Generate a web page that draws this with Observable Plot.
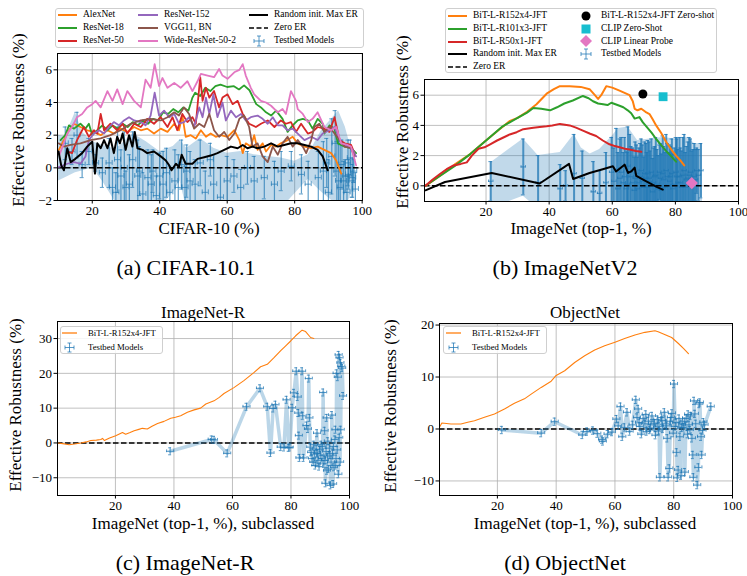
<!DOCTYPE html>
<html><head><meta charset="utf-8">
<script src="https://cdn.jsdelivr.net/npm/d3@7"></script>
<script src="https://cdn.jsdelivr.net/npm/@observablehq/plot@0.6"></script>
<style>
body{margin:0;background:#fff;}
#page{position:relative;width:747px;height:576px;background:#fff;overflow:hidden;font-family:"Liberation Serif","DejaVu Serif",serif;color:#000}
.t{position:absolute;white-space:nowrap;line-height:1}
.box{position:absolute;border:1px solid #cfcfcf;border-radius:3px;background:rgba(255,255,255,0.85);box-sizing:border-box}
</style></head>
<body><div id="page"></div>
<script>
// ---------------- DATA ----------------
// Panel (a) CIFAR-10.1: [CIFAR-10 acc, effective robustness]
const alexNet = [[10.1,1.1],[11.6,1.7],[13.1,2.3],[14.6,2.7],[16.5,2.5],[18.5,2.3],[20.5,2.2],[22.5,2.0],[24.5,2.3],[26.4,2.1],[28.4,2.4],[30.4,2.2],[32.4,2.5],[34.4,2.3],[36.3,2.4],[38.3,2.1],[40.3,2.4],[42.3,2.2],[44.3,2.7],[45.7,2.3],[46.7,3.2],[47.7,1.9],[49.2,2.0],[50.7,1.8],[52.2,2.3],[53.7,1.9],[55.1,2.1],[56.6,1.9],[58.1,2.0],[60.1,1.9],[62.1,2.3],[63.6,1.7],[64.6,0.9],[65.5,1.5],[67,1.3],[68,2.0],[69,1.1],[70.5,1.5],[71.5,1.0],[73,1.4],[74.5,1.3],[75.9,1.5],[77.9,1.7],[79.4,1.9],[80.9,1.5],[82.9,1.3],[84.9,1.2],[86.8,1.3],[88.8,1.1],[90.8,0.9],[92.3,0.45],[93.8,-0.35]];
const resNet18 = [[10.6,1.7],[12,2.0],[13.1,2.6],[14.6,2.4],[16.5,2.7],[18,2.4],[19,2.7],[20,2.0],[21.5,2.3],[23,2.6],[24.5,2.3],[26,2.6],[27.5,2.4],[29,2.7],[30.5,2.5],[32,2.8],[33.5,2.6],[35,2.9],[36.5,2.7],[38,3.0],[39.5,2.9],[41,3.4],[42.5,3.3],[44,3.6],[45.5,3.4],[47,3.7],[48.5,3.5],[49.7,4.3],[50.5,4.6],[52,4.4],[53.5,4.9],[55,4.7],[56.5,5.0],[58,5.1],[60,4.95],[62,5.0],[63.5,4.8],[65,5.05],[66.6,4.75],[68.6,3.9],[70,3.7],[71.5,3.4],[73,3.2],[74.5,3.5],[76.4,3.0],[77.9,2.2],[79.4,2.6],[80.9,2.9],[82.4,3.0],[83.9,2.9],[85.3,2.4],[86.8,3.0],[88.3,2.7],[88.8,2.1],[90.3,2.6],[91.8,2.4],[92.8,1.5],[94.8,1.3],[96.7,1.2],[98.2,0.9]];
const resNet50 = [[12.6,1.0],[14,0.9],[15.5,1.7],[17.5,2.5],[19,1.9],[20.5,2.3],[21.5,2.1],[22.5,3.3],[23.5,2.3],[25.4,2.7],[27.4,2.3],[29,2.7],[30.4,2.1],[32.4,2.7],[34.4,2.5],[36.3,3.0],[38.3,2.7],[40.3,3.1],[42.3,2.5],[43.8,3.1],[45.2,2.3],[46.7,3.3],[48.2,2.8],[49.7,3.1],[50.7,2.7],[52,5.55],[52.7,4.1],[53.7,4.9],[54.7,4.3],[56.1,4.7],[57.6,3.7],[58.6,4.3],[60.1,4.5],[61.6,3.9],[63.1,4.1],[64.6,3.3],[66.5,2.7],[68.5,2.5],[70,2.7],[72,2.9],[74,2.5],[75.9,2.9],[77.4,2.7],[78.9,2.8],[80.4,2.2],[81.9,2.7],[83.9,2.1],[85.3,2.2],[86.8,2.5],[88.8,2.4],[90.3,2.2],[91.8,3.1],[93.3,1.7],[94.8,1.5],[96.7,1.4],[97.7,0.9]];
const resNet152 = [[10.1,0.05],[12.6,0.25],[14.6,0.35],[16.5,0.25],[18,0.7],[19,1.7],[20.5,2.1],[22,2.3],[23.5,2.1],[25,2.5],[26.4,2.8],[27.9,2.6],[29.4,2.9],[30.9,3.1],[32.4,2.9],[34.4,2.8],[35.8,2.6],[37.3,3.2],[38.5,4.6],[39.8,3.2],[41.3,3.5],[42.8,3.1],[44.3,3.3],[45.7,2.7],[47.2,2.8],[48.7,3.1],[50.2,2.5],[51.7,3.7],[52.7,3.1],[53.7,4.3],[54.7,3.3],[55.9,4.5],[57.1,3.1],[58.6,4.0],[59.6,2.9],[61.1,3.5],[62.6,3.1],[64.1,3.3],[65.5,2.9],[67,3.1],[69,3.2],[70.5,3.0],[72,2.7],[73.5,3.1],[75,2.6],[76.4,2.6],[77.9,2.3],[79.4,2.4],[80.9,2.1],[82.9,1.7],[84.9,1.9],[86.8,1.7],[88.3,2.1],[90.3,2.3],[91.8,2.5],[93.8,1.5],[95.7,1.3],[97.2,1.1],[98.2,0.7]];
const vgg11bn = [[10,1.5],[11.6,1.3],[13.6,1.4],[16.5,1.5],[19.5,1.7],[22.5,1.8],[25.4,2.0],[28.4,2.3],[31.4,2.7],[34.4,2.9],[37.3,3.0],[40.3,2.9],[42.3,3.1],[44.3,3.4],[45.7,3.2],[47.2,3.7],[48.7,3.3],[50.2,2.4],[51.7,2.7],[53.2,2.5],[54.7,3.3],[56.1,2.3],[57.6,1.9],[59.1,2.2],[60.6,1.7],[62.1,2.1],[63.6,3.0],[65,3.2],[66.5,2.5],[67.5,1.3],[69,1.5],[70.5,0.7],[72,0.35],[73.5,1.3],[75,0.8],[76.4,1.5],[77.9,1.9],[79.4,1.3],[80.9,1.7],[82.4,1.3],[83.4,0.9],[84.9,1.7],[85.8,2.5],[87.3,2.7],[88.8,2.2],[90.3,2.5],[91.8,2.1],[93.3,1.7],[94.8,1.3],[96.7,1.2],[97.7,0.7]];
const wideResNet = [[10.3,0.8],[11.2,1.3],[12.6,2.1],[14,2.5],[15.5,3.1],[17,3.3],[18.5,3.7],[20,3.9],[21,4.1],[22.5,3.7],[24.5,4.7],[26,4.1],[27.4,4.8],[29,3.9],[30.4,4.7],[32.4,4.1],[34.4,3.7],[35.8,5.4],[37.3,4.9],[38.5,6.35],[39.8,5.0],[40.8,5.5],[42.3,4.9],[44.3,5.2],[46.2,4.9],[48.2,5.3],[49.7,4.7],[51.2,5.3],[52.2,5.75],[54.2,5.65],[56.1,5.55],[57.6,6.05],[58.6,5.65],[60.1,5.45],[62.1,5.85],[63.6,6.0],[64.6,6.35],[65.5,5.65],[67,4.9],[68,4.5],[70,4.1],[71.5,4.0],[73,3.8],[75,3.4],[76.4,3.6],[77.4,3.3],[78.9,4.7],[80.4,4.1],[80.9,3.6],[82.4,3.3],[83.9,2.8],[85.3,3.0],[86.8,3.4],[88.8,2.5],[90.8,2.3],[92.3,2.5],[93.8,1.5],[95.7,1.4],[96.7,1.3],[98.2,0.15]];
const randomInitA = [[10,1.0],[10.8,0.15],[11.6,-0.15],[12.6,1.2],[13.6,0.35],[15,0.55],[17,0.9],[18.5,1.3],[20,1.6],[20.8,-0.35],[21.5,1.5],[22.5,1.2],[23.5,1.7],[24.5,1.2],[25.4,1.8],[26.4,0.9],[27.4,1.9],[28.2,1.5],[29,2.1],[29.9,1.1],[30.9,2.0],[31.9,1.3],[32.6,2.2],[33.4,1.2],[34.9,1.1],[36.3,0.9],[38.3,1.0],[40.3,0.7],[41.8,0.45],[42.8,0.15],[43.5,-0.15],[44.8,0.25],[45.7,0.05],[46.5,0.8],[47.7,0.25],[49.7,0.25],[51.2,0.55],[53.2,0.65],[55.1,0.75],[57.1,0.9],[59.1,1.1],[61.1,1.3],[63.1,1.2],[64.6,1.4],[66,1.2],[67.5,1.3],[69,1.2],[71,1.3],[73,1.5],[75,1.3],[76.9,1.4],[78.9,1.5],[80.9,1.5],[82.9,1.4],[84.9,1.3],[86.8,1.1],[88.3,0.7],[89.8,-0.15]];
// testbed models (a): [x, y, y-error]
const testbedA = [[12,1.5,1.0],[14,1.0,0.8],[15.5,2.0,1.4],[17,0.2,0.8],[19,1.0,0.8],[21,0.3,0.5],[23,-0.3,0.9],[25,0.3,1.5],[26,-1.2,1.2],[27,-1.5,1.2],[27.5,0.5,2.0],[28.5,-0.5,1.6],[29.5,0.0,2.2],[30,-1.2,1.0],[31,-1.0,1.8],[32,0.5,1.7],[33.5,-0.5,2.2],[34,-0.2,1.5],[35,-1.6,1.3],[36.5,-0.6,1.7],[37.5,-1.0,1.8],[38,-0.2,1.3],[39,-1.7,1.2],[40,-0.5,1.4],[41,-1.0,2.0],[42,-0.3,1.5],[43,-1.5,1.6],[44.5,-0.8,1.9],[45.5,-1.2,2.0],[46.5,0.2,1.5],[47.5,-1.2,1.3],[48,-0.2,1.6],[49,-0.8,1.8],[50.5,-1.0,1.5],[52,0.3,1.4],[53.5,-1.5,1.3],[55,0.5,1.0],[56,-1.0,1.8],[58,-1.8,1.8],[60,-0.8,1.5],[62,-0.5,1.0],[64,-1.2,1.1],[66,0.0,1.0],[68,-0.8,1.5],[71,-0.6,1.3],[74,-1.0,1.4],[76,-0.2,1.2],[79,0.1,0.9],[82,-0.4,1.2],[84,-1.0,1.4],[87,-0.6,1.6],[88.5,-0.2,1.8],[89.5,0.3,1.5],[90,-1.5,2.0],[91,0.7,2.3],[92,1.5,2.0],[92.5,-0.2,1.8],[93,-0.8,2.5],[93.5,-1.2,2.8],[94,0.2,1.5],[94.5,-0.8,1.2],[95,-0.5,1.0],[95.5,-1.5,1.0],[95.8,0.3,1.4],[96,-0.4,0.9],[96.5,0.6,1.1],[97,-0.8,1.0],[97.2,-0.6,1.2],[97.5,-0.2,0.7],[98,-1.3,1.0]];
const testbedAxErr = 0.9;
// shaded band (a): [x, low, high]
const bandA = [[10,-0.8,2.0],[12,-0.6,1.9],[15,-0.3,3.4],[17,-0.2,2.2],[20,0.0,1.6],[23,-0.8,1.4],[26,-1.8,1.2],[28,-2.5,1.3],[32,-2.5,2.1],[36,-2.5,1.6],[40,-2.5,1.0],[44,-1.5,1.3],[46,-0.8,1.7],[48,-2.5,1.2],[52,-2.5,1.8],[56,-2.5,1.2],[60,-2.5,0.9],[64,-2.0,1.0],[68,-2.5,0.8],[72,-2.5,0.7],[76,-2.5,0.6],[80,-1.6,0.4],[84,-0.7,0.8],[88,-1.5,2.3],[91,-2.0,3.0],[93,-2.5,3.5],[95,-2.5,2.5],[97,-1.5,1.0],[98,-1.5,0.8]];

// Panel (b) ImageNetV2: [ImageNet top-1, effective robustness]
const bitR152x4 = [[0.8,0],[4,0.45],[7,0.9],[10,1.4],[15,2.1],[20,3.0],[24,3.7],[27.6,4.3],[30,4.5],[33,4.9],[36,5.4],[39.2,6.1],[41.5,6.4],[43.4,6.6],[46.5,6.6],[50,6.55],[52.8,6.4],[54.5,6.0],[55.5,5.75],[56.5,6.0],[58.1,6.6],[60,6.5],[62.3,6.3],[65.5,6.0],[66.5,5.6],[67.1,5.1],[68,5.0],[69.2,5.1],[70.5,4.9],[71.8,4.75],[72.8,4.4],[73.9,4.0],[75.5,3.5],[77.1,2.9],[78.7,2.4],[80.2,2.0],[81.5,1.7],[82.8,1.35]];
const bitR101x3 = [[0.8,0],[5,0.6],[10,1.3],[15,2.1],[20,3.0],[25,3.9],[30,4.5],[33,4.85],[35,5.15],[37.5,5.1],[40.3,5.0],[42.5,5.2],[44.8,5.45],[47.5,5.65],[50.7,5.95],[52.5,5.8],[53.9,5.6],[55.5,5.45],[57.1,5.4],[58.5,5.35],[59.7,5.5],[61,5.4],[62.3,5.3],[63.5,5.2],[64.9,5.0],[66,4.8],[67.1,4.45],[68.6,4.55],[69.7,4.2],[71.3,3.8],[72.5,3.5],[73.9,3.1],[75.5,2.7],[77.1,2.3],[78.7,1.95],[80.2,1.6]];
const bitR50x1 = [[0.8,0],[3,0.4],[5.5,0.8],[7.5,1.1],[9.7,1.35],[12,1.45],[13.9,1.55],[15.5,2.0],[17.6,2.45],[19.5,2.55],[21.3,2.75],[23.5,3.0],[25.5,3.2],[27.5,3.4],[29.7,3.55],[31.8,3.75],[35,3.85],[37,3.9],[39.2,3.95],[41,4.0],[43.4,4.1],[45,4.05],[46.5,4.0],[48.5,3.85],[50.7,3.65],[53,3.45],[54.9,3.3],[57,3.0],[59.1,2.75],[60.5,2.65],[62.3,2.55],[64,2.45],[65.5,2.4],[67.5,2.3],[69.2,2.25]];
const randomInitB = [[0.8,-0.3],[7,0.25],[21.8,0.85],[37,0.15],[46.3,1.45],[47.6,0.45],[52.8,0.85],[57,1.1],[60.2,1.3],[61.2,0.95],[63.9,1.4],[65,0.85],[66,0.95],[67.1,1.2],[67.6,0.65],[70.8,0.3],[73.9,-0.05],[76,-0.25]];
const bitZeroShot = [[69.7,6.08]];
const clipZeroShot = [[76.1,5.9]];
const clipLinearProbe = [[85.2,0.18]];
const testbedB = [[21.5,0.3,1.3],[31.8,1.25,1.85],[36.5,0.2,1.8],[43.5,-0.2,1.6],[45.2,0.0,1.0],[47.9,0.8,2.6],[50.5,0.5,1.8],[54,-0.4,2.0],[56,-0.5,1.5],[58,0.2,2.0],[59.8,0.9,2.3],[60.5,0.3,2.2],[61.3,1.1,2.7],[61.8,-0.2,2.4],[62.4,0.5,2.6],[62.9,0.9,2.3],[63.5,0.2,2.0],[63.9,0.6,2.6],[64.5,-0.2,2.5],[64.8,0.1,2.1],[65,1.3,2.6],[65.6,0.9,2.5],[66,0.6,2.0],[66.5,0.2,2.3],[67,-0.3,2.2],[67.3,0.5,2.4],[67.7,0.8,1.9],[68,-0.2,2.1],[68.5,0.2,2.3],[68.9,0.6,2.2],[69.2,1.0,2.1],[69.6,0.3,2.4],[70,-0.1,2.0],[70.3,0.8,2.1],[70.7,0.5,2.3],[71,-0.1,2.3],[71.3,0.8,2.2],[71.7,0.5,2.4],[72,0.3,2.0],[72.4,0.9,2.2],[72.8,-0.4,2.2],[73.1,0.2,2.3],[73.5,0.6,2.0],[73.8,0.7,2.5],[74.2,0.1,2.3],[74.6,-0.2,2.2],[75,0.9,1.8],[75.3,0.5,2.3],[75.6,-0.3,2.4],[76,0.8,2.5],[76.3,0.4,2.2],[76.7,-0.1,2.3],[77.1,1.0,2.4],[77.5,0.6,2.2],[77.8,0.0,2.2],[78.2,0.3,2.4],[78.5,0.6,2.0],[78.9,0.8,2.3],[79.2,-0.2,2.3],[79.7,0.1,2.4],[80.2,0.9,2.3],[80.5,0.6,2.5],[80.8,0.2,2.2],[81.3,0.6,2.6],[81.6,0.2,2.3],[82,-0.1,2.4],[82.4,0.7,2.5],[82.8,1.0,2.4],[83.2,-0.1,2.3],[83.5,0.4,2.2],[84,0.5,2.4],[84.4,0.7,2.5],[84.8,0.9,2.2],[85.2,0.1,2.2],[85.6,0.3,2.1],[86,0.6,2.2],[86.4,0.4,2.0],[86.8,1.0,1.5],[87.3,0.7,1.7],[88.1,1.0,1.8]];
const testbedBxErr = 0.7;
const bandB = [[21.3,-1.5,1.5],[31.8,-0.7,3.1],[36.5,-1.5,2.0],[43.5,-1.5,2.2],[47.9,-1.5,3.4],[50.2,-1.5,2.5],[53,-1.5,2.1],[56,-1.5,2.4],[60,-1.5,3.3],[62,-1.5,3.8],[65,-1.5,3.9],[68,-1.5,3.0],[72,-1.5,3.1],[76,-1.5,3.2],[80,-1.5,3.1],[84,-1.5,3.2],[86,-1.5,2.8],[88.6,-1.5,2.8]];

// Panel (c) ImageNet-R
const bitR152x4_R = [[0.2,0],[2,-0.2],[4.2,-0.5],[6,-0.3],[8.2,0],[10,0.3],[11.6,0.7],[13.5,0.8],[15,1.0],[15.6,1.3],[16.2,0.7],[18,1.4],[20.1,2.1],[22.4,3.0],[23.5,2.5],[25,3.0],[26.4,3.5],[28,3.9],[29.2,4.2],[30.9,4.0],[32.5,4.8],[34.4,5.6],[36.6,6.2],[38.9,7.1],[40.5,7.4],[42.3,7.8],[44.6,8.8],[46.9,9.5],[49.1,10.0],[50.9,11.2],[53.7,12.1],[55.5,13.1],[57.1,14.2],[60.5,15.9],[62.2,16.9],[63.9,17.9],[65.5,19.0],[67.3,20.2],[69.6,21.9],[71.9,22.6],[74.2,24.5],[76.5,26.5],[78.2,27.9],[79.9,29.3],[81.6,30.8],[83.8,32.4],[85,32.0],[86.7,30.3],[87.8,30.0]];
const testbedC = [[38.7,-2.4],[52.9,1.0],[53.7,0.9],[58.2,-3.0],[64.8,10.4],[69.4,15.7],[71.9,10.4],[73.0,-2.9],[73.9,9.9],[74.7,11.0],[76.5,-1.2],[77.6,-1.3],[78.5,12.4],[79.2,-1.4],[79.6,-1.3],[80.4,10.1],[81.0,14.4],[81.8,20.6],[82.3,13.2],[82.5,8.6],[82.7,2.1],[82.9,-4.3],[83.8,20.6],[84.0,7.8],[84.3,-4.3],[85.3,5.0],[85.8,4.0],[86.1,18.5],[86.3,7.2],[86.6,-1.2],[86.9,-2.7],[87.2,-4.5],[87.6,-5.5],[87.8,-0.5],[88.0,-3.2],[88.3,-6.5],[88.6,-1.8],[88.9,2.8],[89.0,-3.0],[89.2,-5.0],[89.6,-6.8],[89.8,-2.0],[90.0,-3.5],[90.3,-0.5],[90.6,-4.5],[90.8,-1.0],[91.0,14.5],[91.2,-6.0],[91.5,3.5],[91.6,-5.0],[91.8,-11.6],[92.0,-2.5],[92.2,7.2],[92.3,-8.0],[92.5,-4.0],[92.6,0.5],[92.8,-7.5],[93.1,-1.5],[93.3,-3.5],[93.5,-12.2],[93.7,-5.5],[94.0,8.0],[94.2,-3.0],[94.4,-11.8],[94.5,-1.0],[94.7,-7.0],[95.0,1.0],[95.2,3.8],[95.3,-6.5],[95.4,-4.5],[95.6,20.0],[95.8,-2.0],[96.0,18.9],[96.2,-9.0],[96.3,25.3],[96.5,1.5],[96.6,24.5],[96.8,-5.5],[96.9,23.0],[97.0,3.8],[97.2,22.0],[97.5,21.5],[97.8,13.5]];

// Panel (d) ObjectNet
const bitR152x4_O = [[0.4,0.45],[1.1,1.15],[1.9,1.1],[4.2,0.95],[7.6,0.95],[9.9,1.3],[12.2,1.6],[15.6,2.25],[19,2.9],[22.4,3.85],[25.8,4.95],[29.2,5.8],[31.5,6.7],[34.9,8.0],[38.3,9.2],[40,10.3],[42.9,11.2],[46.3,12.8],[49.7,14.1],[53.1,15.2],[56.5,16.0],[60,16.7],[63.3,17.4],[66.8,18.1],[70.2,18.6],[73.6,18.9],[74.7,18.7],[76.5,18.3],[78.1,17.9],[79.3,17.6],[81.5,16.5],[83.3,15.5],[85,14.5]];
const testbedD = [[21.5,-0.2],[34.9,-0.8],[39.5,1.4],[48.9,-1.15],[50.5,-0.5],[52.5,-0.3],[54.0,-0.9],[55.6,-2.05],[55.9,-2.4],[57.5,-1.0],[59.0,-0.6],[60.5,1.9],[61.1,0.6],[61.9,4.3],[62.5,-1.5],[63.2,0.3],[64.1,3.2],[65.0,-0.5],[66.0,0.8],[67.1,5.6],[67.5,2.2],[67.9,3.85],[68.2,1.2],[68.5,0.5],[69.0,-1.0],[69.6,2.0],[70.2,1.0],[70.5,2.8],[70.8,-0.5],[71.4,1.5],[71.8,-0.2],[72.0,0.2],[72.6,2.5],[73.2,0.8],[73.5,1.1],[73.8,-1.2],[74.4,1.8],[74.8,-0.4],[75.0,0.5],[75.3,-9.3],[75.8,2.2],[76.0,1.6],[76.3,0.0],[76.8,3.2],[77.3,1.0],[77.6,0.6],[77.8,-1.8],[78.1,-9.3],[78.5,-7.6],[78.9,1.5],[79.1,2.2],[79.4,3.0],[79.8,-0.8],[80.1,8.65],[80.5,0.5],[80.8,1.2],[81.0,-4.5],[81.2,-9.4],[81.5,-7.9],[81.8,2.0],[82.1,-1.5],[82.5,-9.0],[82.6,0.2],[82.9,1.0],[83.3,0.3],[83.6,1.4],[83.8,-8.3],[84.2,2.0],[84.7,-1.0],[84.9,2.8],[85.2,0.8],[85.5,-0.2],[85.7,2.5],[86.2,-1.8],[86.5,-5.0],[86.7,-9.3],[86.9,5.4],[87.2,2.9],[87.5,1.0],[88.0,-10.8],[88.4,-7.4],[88.7,4.8],[88.9,5.1],[89.3,-1.5],[89.5,-5.0],[89.8,-0.3],[90.1,1.3],[90.5,0.8],[92.6,4.3]];

// tick labels
const xTicksAll = [20,40,60,80,100];
const yTicksA = [-2,0,2,4,6];
const yTicksB = [0,2,4,6];
const yTicksC = [-10,0,10,20,30];
const yTicksD = [-10,0,10,20];

// ---------------- DRAW ----------------
const C = {blue:"#1f77b4", orange:"#ff7f0e", green:"#2ca02c", red:"#d62728", purple:"#9467bd", brown:"#8c564b", pink:"#e377c2", cyan:"#17becf"};
const FONT = '"Liberation Serif","DejaVu Serif",serif';
const page = document.getElementById("page");
const fmt = d => d < 0 ? "\u2212" + (-d) : String(d);
const X = d => d[0], Y = d => d[1];

function line(data, color, w = 1.8) { return Plot.line(data, {x: X, y: Y, stroke: color, strokeWidth: w, clip: true}); }
function zero() { return Plot.ruleY([0], {stroke: "black", strokeWidth: 1.5, strokeDasharray: "5.5,2.5"}); }
function errorbars(rows, o) {
  const s = {stroke: C.blue, strokeOpacity: o.op, strokeWidth: o.w, clip: true};
  const t = {stroke: C.blue, strokeOpacity: o.op, strokeWidth: 1, clip: true};
  return [
    Plot.ruleX(rows, {x: "x", y1: d => d.y - d.ye, y2: d => d.y + d.ye, ...s}),
    Plot.ruleY(rows, {y: "y", x1: d => d.x - d.xe, x2: d => d.x + d.xe, ...t}),
    Plot.ruleY(rows, {y: d => d.y + d.ye, x1: d => d.x - o.capX, x2: d => d.x + o.capX, ...t}),
    Plot.ruleY(rows, {y: d => d.y - d.ye, x1: d => d.x - o.capX, x2: d => d.x + o.capX, ...t}),
    Plot.ruleX(rows, {x: d => d.x - d.xe, y1: d => d.y - o.capY, y2: d => d.y + o.capY, ...t}),
    Plot.ruleX(rows, {x: d => d.x + d.xe, y1: d => d.y - o.capY, y2: d => d.y + o.capY, ...t})
  ];
}
function panel(c) {
  const svg = Plot.plot({
    width: c.width, height: c.height,
    marginLeft: c.mL, marginRight: c.mR, marginTop: c.mT, marginBottom: c.mB,
    x: {domain: c.xDom}, y: {domain: c.yDom},
    style: {fontFamily: FONT, background: "transparent", color: "black", overflow: "visible"},
    marks: [
      Plot.gridX(xTicksAll, {stroke: "#b0b0b0", strokeOpacity: 1, strokeWidth: 0.8}),
      Plot.gridY(c.yTicks, {stroke: "#b0b0b0", strokeOpacity: 1, strokeWidth: 0.8}),
      ...c.marks,
      Plot.frame({stroke: "black", strokeWidth: 1}),
      Plot.axisX(xTicksAll, {tickSize: 3.5, tickPadding: 2, fontSize: 13, label: null}),
      Plot.axisY(c.yTicks, {tickSize: 3.5, tickPadding: 2, fontSize: 13, label: null, tickFormat: fmt})
    ]
  });
  svg.style.position = "absolute"; svg.style.left = c.left + "px"; svg.style.top = c.top + "px";
  page.appendChild(svg);
}
function text(s, x, y, size, rot) {
  const e = document.createElement("div"); e.className = "t"; e.textContent = s;
  e.style.left = x + "px"; e.style.top = y + "px"; e.style.fontSize = size + "px";
  e.style.transform = "translate(-50%,-50%)" + (rot ? " rotate(-90deg)" : "");
  page.appendChild(e);
}
function ltext(s, x, y, size) {
  const e = document.createElement("div"); e.className = "t"; e.textContent = s;
  e.style.left = x + "px"; e.style.top = y + "px"; e.style.fontSize = size + "px";
  e.style.transform = "translate(0,-50%)"; page.appendChild(e);
}
function box(l, t, w, h) { const e = document.createElement("div"); e.className = "box"; Object.assign(e.style, {left: l+"px", top: t+"px", width: w+"px", height: h+"px"}); page.appendChild(e); }
function icon(x, y, w, h, inner) {
  const ns = "http://www.w3.org/2000/svg";
  const s = document.createElementNS(ns, "svg");
  s.setAttribute("width", w); s.setAttribute("height", h);
  s.style.position = "absolute"; s.style.left = x + "px"; s.style.top = y + "px";
  s.innerHTML = inner; page.appendChild(s);
}
function swLine(x1, x2, y, color, w, dash) {
  icon(x1, y - 3, x2 - x1, 6, `<line x1="0" y1="3" x2="${x2-x1}" y2="3" stroke="${color}" stroke-width="${w}" ${dash ? 'stroke-dasharray="'+dash+'"' : ''}/>`);
}
function swErr(cx, cy, r) {
  const c = 2;
  icon(cx - r - 1, cy - r - 1, 2*r + 2, 2*r + 2,
    `<g stroke="${C.blue}" stroke-opacity="0.75" stroke-width="1" transform="translate(${r+1},${r+1})">
     <line x1="${-r}" y1="0" x2="${r}" y2="0"/><line x1="0" y1="${-r}" x2="0" y2="${r}"/>
     <line x1="${-c}" y1="${-r}" x2="${c}" y2="${-r}"/><line x1="${-c}" y1="${r}" x2="${c}" y2="${r}"/>
     <line x1="${-r}" y1="${-c}" x2="${-r}" y2="${c}"/><line x1="${r}" y1="${-c}" x2="${r}" y2="${c}"/></g>`);
}

const rowsA = testbedA.map(d => ({x: d[0], y: d[1], ye: d[2], xe: testbedAxErr}));
const rowsB = testbedB.map(d => ({x: d[0], y: d[1], ye: d[2], xe: testbedBxErr}));
const rowsC = d3.sort(testbedC, X).map(d => ({x: d[0], y: d[1], xe: 1.2, ye: 1.0}));
const rowsD = d3.sort(testbedD, X).map(d => ({x: d[0], y: d[1], xe: 1.2, ye: 0.7}));

// (a)
panel({left: 0, top: 0, width: 370, height: 240, mL: 57, mR: 8, mT: 53, mB: 40,
  xDom: [9.7, 100.1], yDom: [-2, 7], yTicks: yTicksA,
  marks: [
    Plot.areaY(bandA, {x: X, y1: d => d[1], y2: d => d[2], fill: C.blue, fillOpacity: 0.28, clip: true}),
    ...errorbars(rowsA, {op: 0.7, w: 1.2, capX: 0.6, capY: 0.15}),
    zero(),
    line(alexNet, C.orange), line(resNet18, C.green), line(resNet50, C.red),
    line(resNet152, C.purple), line(vgg11bn, C.brown), line(wideResNet, C.pink),
    line(randomInitA, "black", 2)
  ]});
// (b)
panel({left: 375, top: 0, width: 372, height: 240, mL: 49, mR: 9, mT: 79, mB: 39,
  xDom: [0.5, 100], yDom: [-1.04, 7.04], yTicks: yTicksB,
  marks: [
    Plot.areaY(bandB, {x: X, y1: d => d[1], y2: d => d[2], fill: C.blue, fillOpacity: 0.28, clip: true}),
    ...errorbars(rowsB, {op: 0.75, w: 2, capX: 0.6, capY: 0.08}),
    zero(),
    line(bitR152x4, C.orange, 2), line(bitR101x3, C.green, 2), line(bitR50x1, C.red, 2),
    line(randomInitB, "black", 2),
    Plot.dot(bitZeroShot, {x: X, y: Y, fill: "black", r: 4.5}),
    Plot.dot(clipZeroShot, {x: X, y: Y, fill: C.cyan, symbol: "square", r: 5}),
    Plot.dot(clipLinearProbe, {x: X, y: Y, fill: C.pink, symbol: "diamond2", r: 5.5})
  ]});
// (c)
panel({left: 0, top: 295, width: 370, height: 240, mL: 57, mR: 21, mT: 26, mB: 40,
  xDom: [0.2, 100], yDom: [-15.1, 34.9], yTicks: yTicksC,
  marks: [
    zero(),
    Plot.line(rowsC, {x: "x", y: "y", stroke: C.blue, strokeOpacity: 0.3, strokeWidth: 3.5, strokeLinejoin: "round", clip: true}),
    ...errorbars(rowsC, {op: 0.75, w: 1, capX: 0.5, capY: 0.4}),
    line(bitR152x4_R, C.orange, 1.1)
  ]});
// (d)
panel({left: 375, top: 295, width: 372, height: 240, mL: 64, mR: 15, mT: 28, mB: 40,
  xDom: [0.3, 100], yDom: [-12.8, 20.3], yTicks: yTicksD,
  marks: [
    zero(),
    Plot.line(rowsD, {x: "x", y: "y", stroke: C.blue, strokeOpacity: 0.3, strokeWidth: 3.5, strokeLinejoin: "round", clip: true}),
    ...errorbars(rowsD, {op: 0.75, w: 1, capX: 0.5, capY: 0.3}),
    line(bitR152x4_O, C.orange, 1.1)
  ]});

// axis labels
text("Effective Robustness (%)", 18, 120, 17, true);
text("CIFAR-10 (%)", 209, 228, 17);
text("Effective Robustness (%)", 402, 122, 17, true);
text("ImageNet (top-1, %)", 581, 228, 17);
text("Effective Robustness (%)", 15, 405, 17, true);
text("ImageNet (top-1, %), subclassed", 203, 523, 17);
text("Effective Robustness (%)", 390, 406, 17, true);
text("ImageNet (top-1, %), subclassed", 585, 523, 17);
// titles and captions
text("ImageNet-R", 203, 312, 17);
text("ObjectNet", 585, 312, 17);
text("(a) CIFAR-10.1", 186, 268, 22);
text("(b) ImageNetV2", 565, 268, 22);
text("(c) ImageNet-R", 185, 563, 22);
text("(d) ObjectNet", 565, 563, 22);

// legend (a)
box(55, 8, 309, 40);
[[C.orange, "AlexNet"], [C.green, "ResNet-18"], [C.red, "ResNet-50"]].forEach((d, i) => { swLine(58, 77, 15 + 13*i, d[0], 2); ltext(d[1], 83, 15 + 13*i, 9.5); });
[[C.purple, "ResNet-152"], [C.brown, "VGG11, BN"], [C.pink, "Wide-ResNet-50-2"]].forEach((d, i) => { swLine(138, 158, 15 + 13*i, d[0], 2); ltext(d[1], 164, 15 + 13*i, 9.5); });
swLine(249, 268, 15, "black", 2); ltext("Random init. Max ER", 274, 15, 9.5);
swLine(249, 268, 28, "black", 1.5, "5,2.5"); ltext("Zero ER", 274, 28, 9.5);
swErr(258.5, 41, 5); ltext("Testbed Models", 274, 41, 9.5);

// legend (b)
box(445, 8, 272, 65);
[[C.orange, "BiT-L-R152x4-JFT"], [C.green, "BiT-L-R101x3-JFT"], [C.red, "BiT-L-R50x1-JFT"], ["black", "Random init. Max ER"]].forEach((d, i) => { swLine(448, 467, 16 + 12.75*i, d[0], 2); ltext(d[1], 473, 16 + 12.75*i, 9.5); });
swLine(448, 467, 67, "black", 1.5, "5,2.5"); ltext("Zero ER", 473, 67, 9.5);
icon(581, 11, 10, 10, `<circle cx="5" cy="5" r="4.5" fill="black"/>`); ltext("BiT-L-R152x4-JFT Zero-shot", 601, 16, 9.5);
icon(581, 24, 10, 10, `<rect x="0.5" y="0.5" width="9" height="9" fill="${C.cyan}"/>`); ltext("CLIP Zero-Shot", 601, 29, 9.5);
icon(580, 35, 12, 12, `<path d="M6 0 L12 6 L6 12 L0 6 Z" fill="${C.pink}"/>`); ltext("CLIP Linear Probe", 601, 41.5, 9.5);
swErr(586, 54, 5); ltext("Testbed Models", 601, 54, 9.5);

// legend (c)
box(60, 326, 103, 28);
swLine(62, 77, 333, C.orange, 1.3); ltext("BiT-L-R152x4-JFT", 88, 333, 8.7);
swErr(69.5, 347, 4.5); ltext("Testbed Models", 88, 347, 8.7);
// legend (d)
box(443, 326, 104, 28);
swLine(446, 461, 333, C.orange, 1.3); ltext("BiT-L-R152x4-JFT", 472, 333, 8.7);
swErr(453.5, 347, 4.5); ltext("Testbed Models", 472, 347, 8.7);
</script></body></html>
